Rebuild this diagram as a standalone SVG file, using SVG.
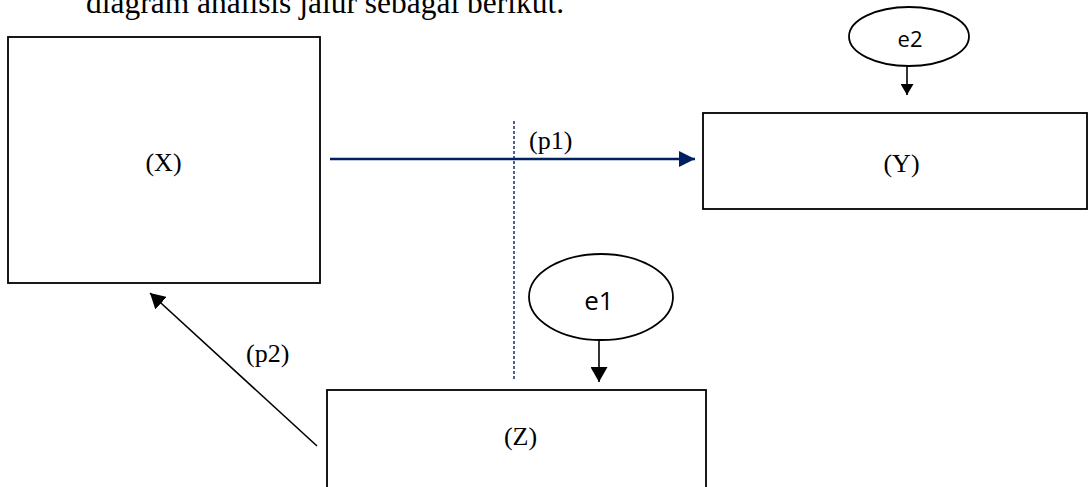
<svg xmlns="http://www.w3.org/2000/svg" width="1089" height="487" viewBox="0 0 1089 487">
  <defs>
    <style>
      .box { fill: #ffffff; stroke: #000000; stroke-width: 1.8; }
      .err { fill: #ffffff; stroke: #000000; stroke-width: 1.8; }
      .serif { font-family: "Liberation Serif", "Times New Roman", serif; font-size: 26px; fill: #000000; }
      .sans { font-family: "Open Sans", "Liberation Sans", sans-serif; fill: #000000; }
      .path-black { stroke: #000000; stroke-width: 1.6; fill: none; }
      .guide { stroke: #002060; stroke-width: 1.4; stroke-dasharray: 3 2; fill: none; }
    </style>
    <marker id="arrowBlue" viewBox="0 0 10 10" refX="10" refY="5" markerWidth="16" markerHeight="16" markerUnits="userSpaceOnUse" orient="auto">
      <path d="M0,0 L10,5 L0,10 z" fill="#002060"/>
    </marker>
    <marker id="arrowSmall" viewBox="0 0 10 10" refX="10" refY="5" markerWidth="11" markerHeight="13" markerUnits="userSpaceOnUse" orient="auto" preserveAspectRatio="none">
      <path d="M0,0 L10,5 L0,10 z" fill="#000000"/>
    </marker>
    <marker id="arrowLarge" viewBox="0 0 10 10" refX="10" refY="5" markerWidth="15" markerHeight="17" markerUnits="userSpaceOnUse" orient="auto" preserveAspectRatio="none">
      <path d="M0,0 L10,5 L0,10 z" fill="#000000"/>
    </marker>
  </defs>

  <!-- caption line above the figure -->
  <text x="86" y="13" font-family="Liberation Serif, 'Times New Roman', serif" font-size="31" fill="#000" textLength="478" lengthAdjust="spacingAndGlyphs">diagram analisis jalur sebagai berikut.</text>

  <g id="connectors">
    <line class="guide" x1="514" y1="121" x2="514" y2="379"/>
    <line x1="330" y1="159" x2="695" y2="159" stroke="#002060" stroke-width="2.6" marker-end="url(#arrowBlue)"/>
    <line class="path-black" x1="317" y1="446" x2="150" y2="293" marker-end="url(#arrowLarge)"/>
    <line class="path-black" x1="907" y1="66" x2="907" y2="95" marker-end="url(#arrowSmall)"/>
    <line class="path-black" x1="599" y1="340" x2="599" y2="382" marker-end="url(#arrowLarge)"/>
    <text class="serif" x="529" y="149">(p1)</text>
    <text class="serif" x="246" y="362">(p2)</text>
  </g>

  <g id="node-x">
    <rect class="box" x="8" y="37" width="312" height="246"/>
    <text class="serif" x="163.5" y="171" text-anchor="middle">(X)</text>
  </g>

  <g id="node-y">
    <rect class="box" x="703" y="113" width="384" height="96"/>
    <text class="serif" x="901.5" y="172" text-anchor="middle">(Y)</text>
  </g>

  <g id="node-z">
    <rect class="box" x="327" y="390" width="379" height="110"/>
    <text class="serif" x="520.5" y="445" text-anchor="middle">(Z)</text>
  </g>

  <g id="node-e2">
    <ellipse class="err" cx="909" cy="36.5" rx="60" ry="29.5"/>
    <text class="sans" x="910" y="47" font-size="22" text-anchor="middle">e2</text>
  </g>

  <g id="node-e1">
    <ellipse class="err" cx="601" cy="297" rx="72" ry="43"/>
    <text class="sans" x="599" y="310" font-size="26" text-anchor="middle">e1</text>
  </g>
</svg>
